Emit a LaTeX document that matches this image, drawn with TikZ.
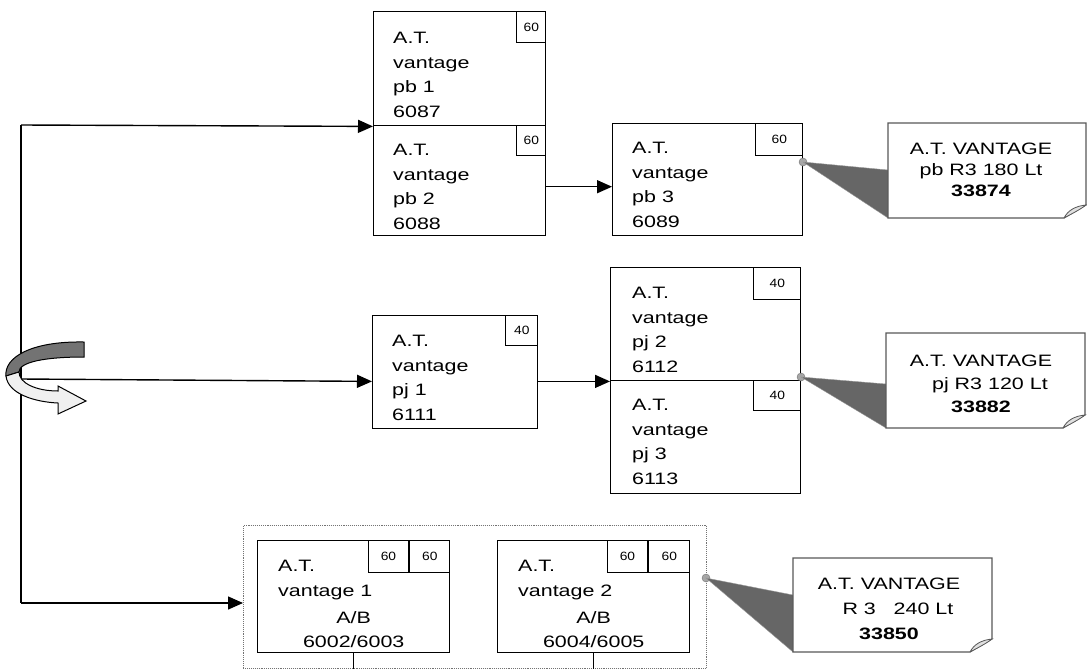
\documentclass[tikz,border=0pt]{standalone}
\usepackage{fontspec}
\setmainfont{Liberation Sans}
\newfontfamily\wf[FakeStretch=1.3]{Liberation Sans}
\newfontfamily\tf[FakeStretch=1.15]{Liberation Sans}
\usetikzlibrary{arrows.meta,calc}
\begin{document}
\begin{tikzpicture}[x=1pt,y=-1pt,
  box/.style={draw=black, line width=1.4pt, rectangle, inner sep=0pt, anchor=north west},
  tag/.style={draw=black, line width=1.3pt, rectangle, inner sep=0pt, anchor=north east, font=\tf\fontsize{12}{13}\selectfont},
  txt/.style={anchor=north west, align=left, inner sep=0pt, font=\wf\fontsize{16.5}{24.5}\selectfont},
  ctxt/.style={anchor=north, align=center, inner sep=0pt, font=\wf\fontsize{16.5}{24.5}\selectfont},
  arr/.style={line width=1.4pt, -{Triangle[length=15pt,width=13pt]}},
  link/.style={line width=1.4pt},
  callout/.style={draw=black!65, line width=1.1pt, fill=white},
  tail/.style={fill=black!60, draw=black!40, line width=0.4pt},
  spot/.style={circle, fill=black!35, draw=black!55, inner sep=0pt, minimum size=8pt, line width=0.4pt},
  fold/.style={draw=black!65, fill=black!12, line width=0.8pt}
]
\useasboundingbox (0,0) rectangle (1087,670);
\fill[white] (0,0) rectangle (1087,670);

% ---- top group ----
\node[box, minimum width=172pt, minimum height=114pt] (pb1) at (373,11) {};
\node[tag, minimum width=29pt, minimum height=31pt] (pb1t) at (pb1.north east) {60};
\node[txt] (pb1x) at ([shift={(20,21)}]pb1.north west) {A.T.\\vantage\\pb 1\\6087};

\node[box, minimum width=172pt, minimum height=110pt] (pb2) at (373,125) {};
\node[tag, minimum width=29pt, minimum height=30pt] (pb2t) at (pb2.north east) {60};
\node[txt] (pb2x) at ([shift={(20,19)}]pb2.north west) {A.T.\\vantage\\pb 2\\6088};

\node[box, minimum width=190pt, minimum height=112pt] (pb3) at (612,123) {};
\node[tag, minimum width=47pt, minimum height=32pt] (pb3t) at (pb3.north east) {60};
\node[txt] (pb3x) at ([shift={(20,19)}]pb3.north west) {A.T.\\vantage\\pb 3\\6089};

% ---- middle group ----
\node[box, minimum width=165pt, minimum height=113pt] (pj1) at (372,315) {};
\node[tag, minimum width=32pt, minimum height=30pt] (pj1t) at (pj1.north east) {40};
\node[txt] (pj1x) at ([shift={(20,20)}]pj1.north west) {A.T.\\vantage\\pj 1\\6111};

\node[box, minimum width=190pt, minimum height=113pt] (pj2) at (610,267) {};
\node[tag, minimum width=47pt, minimum height=32pt] (pj2t) at (pj2.north east) {40};
\node[txt] (pj2x) at ([shift={(22,20)}]pj2.north west) {A.T.\\vantage\\pj 2\\6112};

\node[box, minimum width=190pt, minimum height=113pt] (pj3) at (610,380) {};
\node[tag, minimum width=47pt, minimum height=30pt] (pj3t) at (pj3.north east) {40};
\node[txt] (pj3x) at ([shift={(22,19)}]pj3.north west) {A.T.\\vantage\\pj 3\\6113};

% ---- bottom group ----
\node[draw=black!55, densely dotted, line width=0.9pt, rectangle, inner sep=0pt, anchor=north west,
      minimum width=463pt, minimum height=143pt] (cont) at (243,525) {};

\node[box, minimum width=192pt, minimum height=112pt] (v1) at (257,540) {};
\node[tag, minimum width=40pt, minimum height=32pt] (v1b) at (v1.north east) {60};
\node[tag, minimum width=40pt, minimum height=32pt] (v1a) at (v1b.north west) {60};
\node[txt] (v1x) at ([shift={(21,20)}]v1.north west) {A.T.\\vantage 1};
\node[ctxt] (v1y) at ([shift={(0,71)}]v1.north) {A/B\\6002/6003};

\node[box, minimum width=192pt, minimum height=112pt] (v2) at (497,540) {};
\node[tag, minimum width=41pt, minimum height=32pt] (v2b) at (v2.north east) {60};
\node[tag, minimum width=40pt, minimum height=32pt] (v2a) at (v2b.north west) {60};
\node[txt] (v2x) at ([shift={(21,20)}]v2.north west) {A.T.\\vantage 2};
\node[ctxt] (v2y) at ([shift={(0,71)}]v2.north) {A/B\\6004/6005};

\draw[link] (v1.south) -- (v1.south |- cont.south);
\draw[link] (v2.south) -- (v2.south |- cont.south);

% ---- connectors ----
\coordinate (vtop) at (21,125);
\coordinate (vmid) at (21,379);
\coordinate (vbot) at (21,603);
\draw[link] (vtop) -- (vbot);
\draw[arr] (vtop) -- (pb1.south west);
\draw[arr] (vmid) -- (pj1.west |- pj2.south west);
\draw[arr] (vbot) -- (cont.west |- vbot);
\draw[arr] ([yshift=-6pt]pb2.east) -- ([yshift=-6pt]pb2.east -| pb3.west);
\draw[arr] (pj1.east |- pj2.south west) -- (pj2.south west);

% ---- curved ribbon arrow icon ----
\filldraw[fill=black!55, draw=black, line width=1pt]
  (84,342) .. controls (30,341) and (4,358) .. (6,376) -- (19,372)
  .. controls (19,362) and (45,357) .. (84,357) -- cycle;
\filldraw[fill=black!6, draw=black, line width=1pt]
  (6,376) .. controls (8,394) and (35,402) .. (58,403) -- (58,414) -- (86,401)
  -- (58,386) -- (58,391) .. controls (36,391) and (19,383) .. (19,372) -- cycle;

% ---- callouts ----
\node[spot] (s1) at (803,162) {};
\node[spot] (s2) at (801,377) {};
\node[spot] (s3) at (706,578) {};

\coordinate (c1nw) at (888,123); \coordinate (c1se) at (1086,218);
\coordinate (c2nw) at (886,333); \coordinate (c2se) at (1085,428);
\coordinate (c3nw) at (793,558); \coordinate (c3se) at (992,652);

\fill[tail] (s1.center) -- (c1nw |- 0,170) -- (c1nw |- c1se) -- cycle;
\fill[tail] (s2.center) -- (c2nw |- 0,384) -- (c2nw |- c2se) -- cycle;
\fill[tail] (s3.center) -- (c3nw |- 0,595) -- (c3nw |- c3se) -- cycle;

\foreach \c in {1,2,3}{
  \draw[callout] (c\c nw) -- (c\c nw -| c\c se) -- ($(c\c se)+(0,-13)$)
     -- ($(c\c se)+(-22,0)$) -- (c\c nw |- c\c se) -- cycle;
  \draw[fold] ($(c\c se)+(-22,0)$) .. controls ($(c\c se)+(-18,-8)$) and ($(c\c se)+(-10,-12)$) .. ($(c\c se)+(0,-13)$)
     .. controls ($(c\c se)+(-8,-7)$) and ($(c\c se)+(-15,-4)$) .. ($(c\c se)+(-22,0)$);
}

\node[ctxt, font=\wf\fontsize{16.5}{21}\selectfont] (c1) at (981,143) {A.T. VANTAGE\\pb R3 180 Lt\\\textbf{33874}};
\node[ctxt, font=\wf\fontsize{16.5}{23}\selectfont] (c2) at (981,355) {A.T. VANTAGE\\\ \ \ pj R3 120 Lt\\\textbf{33882}};
\node[ctxt, font=\wf\fontsize{16.5}{25}\selectfont] (c3) at (889,578) {A.T. VANTAGE\\\ \ \ R 3\ \ \ 240 Lt\\\textbf{33850}};
\end{tikzpicture}
\end{document}
